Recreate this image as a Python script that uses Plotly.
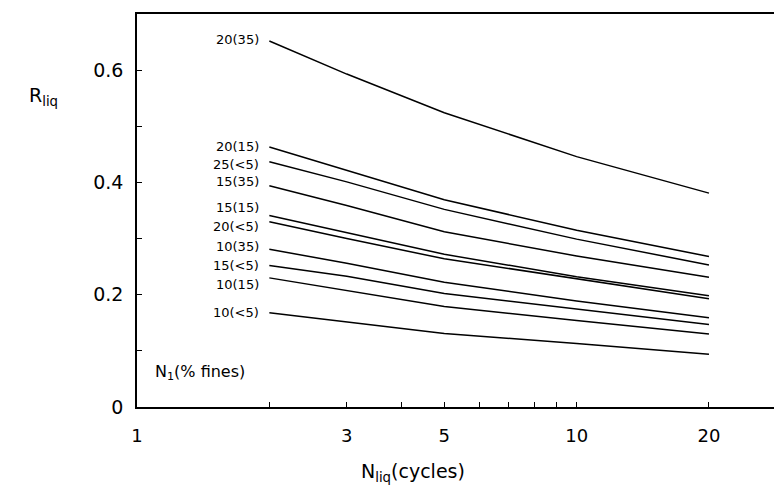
import plotly.graph_objects as go

# Data
n_cycles = [2, 3, 5, 10, 20]
labels = ["20(35)", "20(15)", "25(<5)", "15(35)", "15(15)", "20(<5)",
          "10(35)", "15(<5)", "10(15)", "10(<5)"]
r_20_35 = [0.652, 0.593, 0.524, 0.446, 0.381]
r_20_15 = [0.463, 0.421, 0.369, 0.315, 0.268]
r_25_5 = [0.437, 0.401, 0.352, 0.299, 0.253]
r_15_35 = [0.394, 0.359, 0.312, 0.269, 0.231]
r_15_15 = [0.341, 0.311, 0.272, 0.232, 0.198]
r_20_5 = [0.330, 0.300, 0.264, 0.228, 0.193]
r_10_35 = [0.281, 0.256, 0.222, 0.189, 0.159]
r_15_5 = [0.252, 0.233, 0.202, 0.174, 0.147]
r_10_15 = [0.230, 0.208, 0.179, 0.154, 0.130]
r_10_5 = [0.168, 0.152, 0.131, 0.113, 0.094]
series = [r_20_35, r_20_15, r_25_5, r_15_35, r_15_15, r_20_5,
          r_10_35, r_15_5, r_10_15, r_10_5]

x_tickvals = [1, 2, 3, 4, 5, 6, 7, 8, 9, 10, 20, 30]
x_ticktext = ["1", "", "3", "", "5", "", "", "", "", "10", "20", ""]
y_tickvals = [0, 0.1, 0.2, 0.3, 0.4, 0.5, 0.6]
y_ticktext = ["0", "", "0.2", "", "0.4", "", "0.6"]

FONT = "DejaVu Sans, Verdana, sans-serif"

# label vertical nudges (pixels) to mimic the reference placement
label_shift = [1, 1, -3, 4, 8, -5, 3, 0, -7, 0]

fig = go.Figure()
for name, vals in zip(labels, series):
    fig.add_trace(go.Scatter(x=n_cycles, y=vals, mode="lines", name=name,
                             line=dict(color="black", width=1.5),
                             showlegend=False, hoverinfo="skip"))
for name, vals, sh in zip(labels, series, label_shift):
    fig.add_annotation(x=0.30103, y=vals[0], xref="x", yref="y", text=name,
                       showarrow=False, xanchor="right", yanchor="middle",
                       xshift=-8, yshift=sh,
                       font=dict(family=FONT, size=13, color="black"))

fig.add_annotation(xref="paper", yref="y", x=0.025, y=0.061,
                   text="N<sub>1</sub>(% fines)", showarrow=False,
                   xanchor="left", yanchor="middle",
                   font=dict(family=FONT, size=16, color="black"))

fig.add_annotation(xref="paper", yref="paper", x=-0.145, y=0.79,
                   text="R<sub>liq</sub>", showarrow=False,
                   xanchor="center", yanchor="middle",
                   font=dict(family=FONT, size=19, color="black"))

fig.add_annotation(xref="paper", yref="paper", x=0.43, y=-0.13,
                   text="N<sub>liq</sub>(cycles)", showarrow=False,
                   xanchor="center", yanchor="top",
                   font=dict(family=FONT, size=19, color="black"))

fig.update_xaxes(type="log", range=[0, 1.4626], tickvals=x_tickvals,
                 ticktext=x_ticktext, ticks="inside", ticklen=5, tickwidth=1,
                 tickcolor="black", showline=True, linecolor="black",
                 linewidth=1.5, mirror=True, showgrid=False, zeroline=False,
                 ticklabelstandoff=12,
                 tickfont=dict(family=FONT, size=18, color="black"))
fig.update_yaxes(range=[0, 0.7], tickvals=y_tickvals, ticktext=y_ticktext,
                 ticks="inside", ticklen=5, tickwidth=1, tickcolor="black",
                 showline=True, linecolor="black", linewidth=1.5, mirror=True,
                 showgrid=False, zeroline=False, ticklabelstandoff=8,
                 tickfont=dict(family=FONT, size=19, color="black"))

# page body keeps a default 8px margin, so the figure is offset by it
fig.update_layout(width=774, height=495, margin=dict(l=129, r=0, t=6, b=96),
                  plot_bgcolor="white", paper_bgcolor="white")

fig.write_html("out.html")
